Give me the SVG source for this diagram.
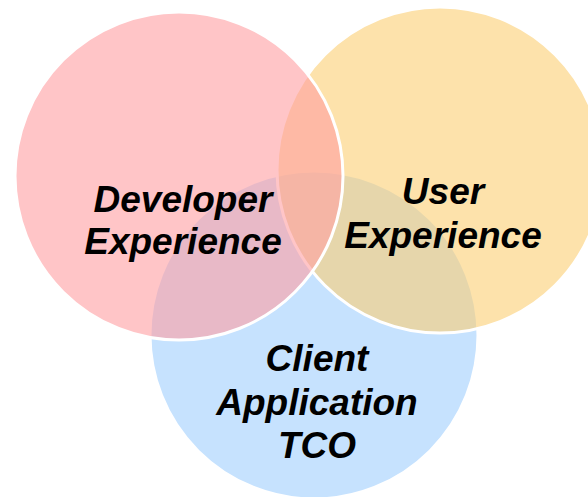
<svg xmlns="http://www.w3.org/2000/svg" width="588" height="497" viewBox="0 0 588 497">
<style>
.c{stroke:#FFFFFF;stroke-width:3}
.t{font-family:"Liberation Sans",Arial,sans-serif;font-weight:bold;font-style:italic;font-size:37px;fill:#000000;text-anchor:middle}
</style>
<rect width="588" height="497" fill="#FFFFFF"/>
<g id="client-tco">
<circle class="c" cx="314" cy="335" r="164" fill="#C6E2FE"/>
</g>
<g id="user-experience">
<circle class="c" cx="440" cy="170" r="163" fill="#FCCF73" fill-opacity="0.6"/>
</g>
<g id="developer-experience">
<circle class="c" cx="179" cy="176" r="164" fill="#FF9EA2" fill-opacity="0.6"/>
</g>
<g id="connectors"></g>
<g id="labels">
<text class="t" x="183" y="212">Developer</text>
<text class="t" x="183" y="254">Experience</text>
<text class="t" x="443" y="204">User</text>
<text class="t" x="443" y="248">Experience</text>
<text class="t" x="317" y="371">Client</text>
<text class="t" x="317" y="415">Application</text>
<text class="t" x="317" y="458">TCO</text>
</g>
</svg>
